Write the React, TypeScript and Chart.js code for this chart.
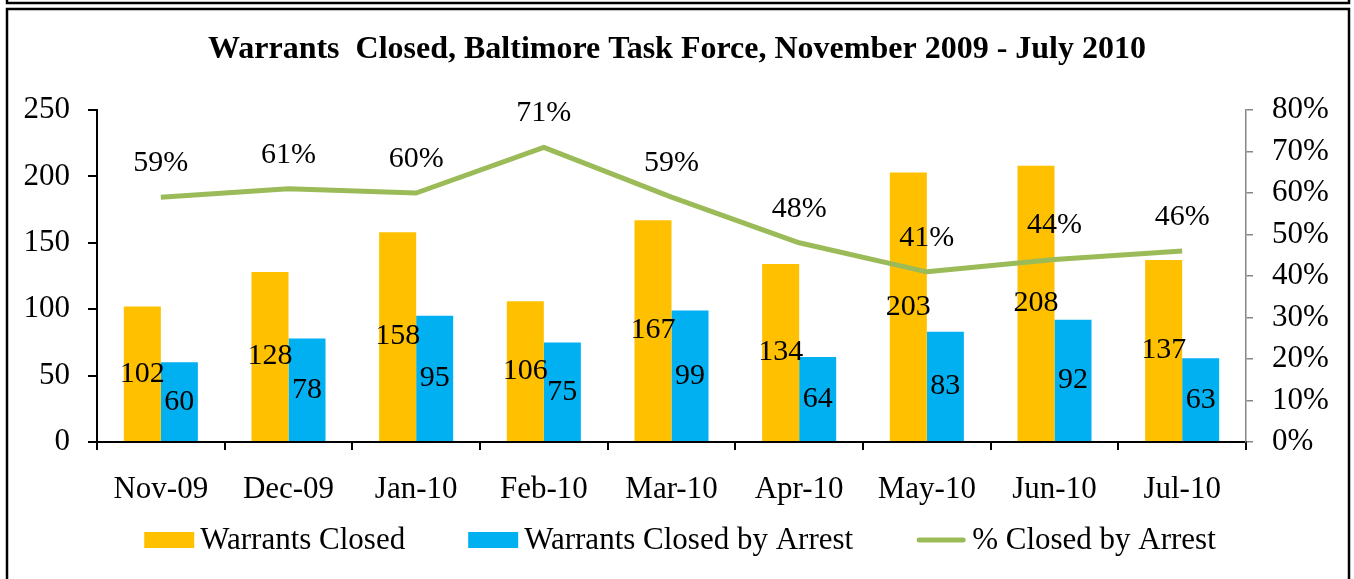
import React, { useEffect, useRef } from "react";
import { Chart, registerables } from "chart.js";

Chart.register(...registerables);

const months = ["Nov-09", "Dec-09", "Jan-10", "Feb-10", "Mar-10", "Apr-10", "May-10", "Jun-10", "Jul-10"];
const warrantsClosed = [102, 128, 158, 106, 167, 134, 203, 208, 137];
const closedByArrest = [60, 78, 95, 75, 99, 64, 83, 92, 63];
const pctClosedByArrest = [59, 61, 60, 71, 59, 48, 41, 44, 46];

const titleText = "Warrants  Closed, Baltimore Task Force, November 2009 - July 2010";
const FONT = "'Liberation Serif', 'Times New Roman', serif";

const framePlugin = {
  id: "frame",
  beforeDraw(chart: any) {
    const ctx = chart.ctx;
    ctx.save();
    ctx.fillStyle = "#fff";
    ctx.fillRect(0, 0, chart.width, chart.height);
    ctx.restore();
  },
  afterDraw(chart: any) {
    const ctx = chart.ctx;
    ctx.save();
    ctx.strokeStyle = "#000";
    ctx.lineWidth = 2.5;
    ctx.strokeRect(7, -10, 1342, 13);
    ctx.strokeRect(7, 9, 1342, 600);
    ctx.restore();
  },
};

const labelPlugin = {
  id: "valueLabels",
  afterDatasetsDraw(chart: any) {
    const ctx = chart.ctx;
    ctx.save();
    ctx.fillStyle = "#000";
    ctx.font = `30px ${FONT}`;
    ctx.textAlign = "center";
    ctx.textBaseline = "middle";
    chart.data.datasets.forEach((ds: any, i: number) => {
      const meta = chart.getDatasetMeta(i);
      meta.data.forEach((el: any, j: number) => {
        const v = ds.data[j];
        if (ds.type === "line") {
          ctx.fillText(`${v}%`, el.x, el.y - 34);
        } else {
          ctx.fillText(String(v), el.x, (el.y + el.base) / 2);
        }
      });
    });
    ctx.restore();
  },
};

// Custom bottom legend drawn from the dataset definitions
const legendPlugin = {
  id: "customLegend",
  afterDraw(chart: any) {
    const ctx = chart.ctx;
    const datasets = chart.data.datasets;
    const boxW = 50;
    const boxH = 16;
    const textGap = 6;
    const itemGap = 63;
    const cy = 540;
    ctx.save();
    ctx.font = `31px ${FONT}`;
    const widths = datasets.map((ds: any) => boxW + textGap + ctx.measureText(ds.label).width);
    const total = widths.reduce((a: number, b: number) => a + b, 0) + itemGap * (datasets.length - 1);
    let x = 680 - total / 2;
    datasets.forEach((ds: any, i: number) => {
      if (ds.type === "line") {
        ctx.strokeStyle = ds.borderColor;
        ctx.lineWidth = ds.borderWidth;
        ctx.lineCap = "round";
        ctx.beginPath();
        ctx.moveTo(x + 3, cy);
        ctx.lineTo(x + boxW - 3, cy);
        ctx.stroke();
      } else {
        ctx.fillStyle = ds.backgroundColor;
        ctx.fillRect(x, cy - boxH / 2, boxW, boxH);
      }
      ctx.fillStyle = "#000";
      ctx.textAlign = "left";
      ctx.textBaseline = "middle";
      ctx.fillText(ds.label, x + boxW + textGap, cy + 1);
      x += widths[i] + itemGap;
    });
    ctx.restore();
  },
};

export default function App() {
  const ref = useRef<HTMLCanvasElement>(null);

  useEffect(() => {
    if (!ref.current) return;
    const chart = new Chart(ref.current, {
      type: "bar",
      data: {
        labels: months,
        datasets: [
          {
            type: "bar",
            label: "Warrants Closed",
            data: warrantsClosed,
            backgroundColor: "#FFC000",
            borderWidth: 0,
            yAxisID: "y",
            order: 1,
          },
          {
            type: "bar",
            label: "Warrants Closed by Arrest",
            data: closedByArrest,
            backgroundColor: "#00B0F0",
            borderWidth: 0,
            yAxisID: "y",
            order: 1,
          },
          {
            type: "line",
            label: "% Closed by Arrest",
            data: pctClosedByArrest,
            borderColor: "#9BBB59",
            backgroundColor: "#9BBB59",
            borderWidth: 5,
            borderJoinStyle: "round",
            pointRadius: 0,
            pointHoverRadius: 0,
            tension: 0,
            yAxisID: "y2",
            order: 0,
          },
        ] as any,
      },
      options: {
        responsive: false,
        devicePixelRatio: 1,
        animation: false,
        layout: { padding: { left: 0, right: 0, top: 0, bottom: 67 } },
        datasets: {
          bar: { categoryPercentage: 0.58, barPercentage: 1 },
        } as any,
        scales: {
          x: {
            offset: true,
            grid: {
              offset: true,
              drawOnChartArea: false,
              drawTicks: true,
              tickLength: 8,
              color: "#000",
              lineWidth: 2,
            },
            border: { color: "#000", width: 2 },
            ticks: { color: "#000", font: { family: FONT, size: 31 }, padding: 21, maxRotation: 0, autoSkip: false },
            afterFit(scale: any) {
              scale.height = 70;
            },
          },
          y: {
            position: "left",
            min: 0,
            max: 250,
            ticks: { stepSize: 50, color: "#000", font: { family: FONT, size: 31 }, padding: 18 },
            grid: { drawOnChartArea: false, tickLength: 9, color: "#000", lineWidth: 2 },
            border: { color: "#000", width: 2 },
            afterFit(scale: any) {
              scale.width = 97;
            },
          },
          y2: {
            position: "right",
            min: 0,
            max: 80,
            ticks: {
              stepSize: 10,
              color: "#000",
              font: { family: FONT, size: 31 },
              padding: 19,
              callback: (v: any) => `${v}%`,
            },
            grid: { drawOnChartArea: false, tickLength: 7, color: "#868686", lineWidth: 1.5 },
            border: { color: "#868686", width: 1.5 },
            afterFit(scale: any) {
              scale.width = 108;
            },
          },
        },
        plugins: {
          title: {
            display: true,
            text: titleText,
            color: "#000",
            font: { family: FONT, size: 32, weight: "bold" },
            padding: { top: 30.5, bottom: 41.1 },
          },
          legend: { display: false },
          tooltip: { enabled: false },
        },
      },
      plugins: [framePlugin, labelPlugin, legendPlugin],
    });
    return () => chart.destroy();
  }, []);

  return (
    <div style={{ position: "fixed", left: 0, top: 0, width: 1354, height: 579, background: "#fff" }}>
      <canvas ref={ref} width={1354} height={579} style={{ display: "block" }} />
    </div>
  );
}
